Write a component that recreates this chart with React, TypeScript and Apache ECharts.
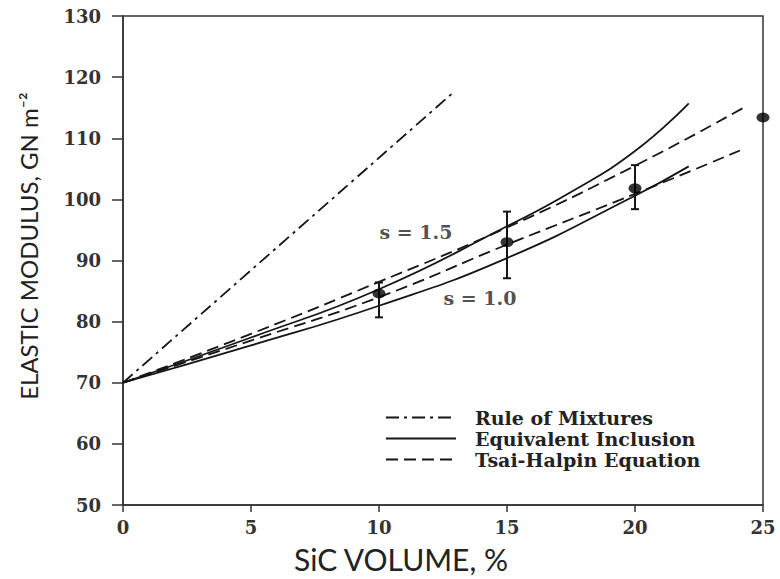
import React, { useEffect, useRef } from "react";
import * as echarts from "echarts";

// Axis ticks
const xTicks = [0, 5, 10, 15, 20, 25];
const yTicks = [50, 60, 70, 80, 90, 100, 110, 120, 130];

// Rule of Mixtures (dash-dot)
const romX = [0, 12.85];
const romY = [70, 117.3];

// Equivalent Inclusion (solid), s = 1.5 and s = 1.0
const eiHighX = [0, 5, 10, 15, 17.5, 20, 22.1];
const eiHighY = [70, 77.4, 85.3, 95.6, 101.2, 107.9, 115.7];
const eiLowX = [0, 5, 10, 15, 20, 22.1];
const eiLowY = [70, 76.1, 82.6, 90.4, 100.6, 105.4];

// Tsai-Halpin Equation (dashed), s = 1.5 and s = 1.0
const thHighX = [0, 5, 10, 15, 20, 24.2];
const thHighY = [70, 78, 86.5, 95.4, 105.5, 114.9];
const thLowX = [0, 5, 10, 15, 20, 24.1];
const thLowY = [70, 76.9, 84, 92.6, 100.9, 108];

// Experimental points
const ptX = [10, 15, 20, 25];
const ptY = [84.6, 93, 101.8, 113.4];
// Error bars
const errX = [10, 15, 20];
const errLow = [80.7, 87.1, 98.4];
const errHigh = [86.4, 98, 105.6];

// Curve annotations
const noteText = ["s = 1.5", "s = 1.0"];
const noteX = [10.0, 12.5];
const noteY = [94.6, 83.9];

const legendNames = ["Rule of Mixtures", "Equivalent Inclusion", "Tsai-Halpin Equation"];

const zip = (xs: number[], ys: number[]) => xs.map((x, i) => [x, ys[i]]);

const INK = "#151515";
const serif = "'DejaVu Serif', 'Liberation Serif', serif";

export default function App() {
  const ref = useRef<HTMLDivElement>(null);
  useEffect(() => {
    if (!ref.current) return;
    const chart = echarts.init(ref.current, undefined, { renderer: "svg" });
    const lineBase = (name: string, data: number[][], type: any) => ({
      type: "line",
      name,
      data,
      smooth: true,
      symbol: "none",
      lineStyle: { color: INK, width: 1.8, type },
      itemStyle: { color: INK },
      z: 3,
    });
    chart.setOption({
      animation: false,
      backgroundColor: "#ffffff",
      grid: {
        left: 123,
        right: 17,
        top: 16,
        bottom: 74,
        show: true,
        borderColor: "#333",
        borderWidth: 1.5,
        backgroundColor: "transparent",
      },
      legend: {
        data: legendNames,
        orient: "vertical",
        left: 380,
        top: 403,
        itemWidth: 70,
        itemHeight: 14,
        itemGap: 2,
        itemStyle: { opacity: 0 },
        textStyle: {
          fontFamily: serif,
          fontWeight: "bold",
          fontSize: 19,
          color: "#222",
          padding: [0, 0, 0, 14],
        },
      },
      xAxis: {
        type: "value",
        min: 0,
        max: 25,
        interval: 5,
        axisLine: { show: true, onZero: false, lineStyle: { color: "#333", width: 1.5 } },
        axisTick: { show: true, inside: false, length: 7, lineStyle: { color: "#333", width: 1.5 } },
        axisLabel: {
          margin: 13,
          fontFamily: serif,
          fontWeight: "bold",
          fontSize: 18,
          color: "#333",
          formatter: (v: number) => (xTicks.includes(v) ? String(v) : ""),
        },
        splitLine: { show: false },
      },
      yAxis: {
        type: "value",
        min: 50,
        max: 130,
        interval: 10,
        axisLine: { show: true, onZero: false, lineStyle: { color: "#333", width: 1.5 } },
        axisTick: { show: true, inside: false, length: 11, lineStyle: { color: "#333", width: 1.5 } },
        axisLabel: {
          margin: 22,
          fontFamily: serif,
          fontWeight: "bold",
          fontSize: 18,
          color: "#333",
          formatter: (v: number) => (yTicks.includes(v) ? String(v) : ""),
        },
        splitLine: { show: false },
      },
      graphic: [
        {
          type: "text",
          x: 401,
          y: 559,
          style: {
            text: "SiC VOLUME, %",
            font: "30px Lato, 'Open Sans', sans-serif",
            fill: "#222",
            align: "center",
            verticalAlign: "middle",
          },
        },
        {
          type: "text",
          x: 28,
          y: 246,
          rotation: Math.PI / 2,
          style: {
            text: "ELASTIC MODULUS, GN m⁻²",
            font: "24px Lato, 'Open Sans', sans-serif",
            fill: "#222",
            align: "center",
            verticalAlign: "middle",
          },
        },
      ],
      series: [
        lineBase(legendNames[0], zip(romX, romY), [13, 5, 3, 5]),
        lineBase(legendNames[1], zip(eiHighX, eiHighY), "solid"),
        lineBase(legendNames[1], zip(eiLowX, eiLowY), "solid"),
        lineBase(legendNames[2], zip(thHighX, thHighY), [12, 6]),
        lineBase(legendNames[2], zip(thLowX, thLowY), [12, 6]),
        {
          type: "custom",
          name: "error",
          data: errX.map((x, i) => [x, errLow[i], errHigh[i]]),
          encode: { x: 0, y: [1, 2] },
          z: 4,
          renderItem: (params: any, api: any) => {
            const x = api.value(0);
            const lo = api.coord([x, api.value(1)]);
            const hi = api.coord([x, api.value(2)]);
            const w = 4;
            const style = { stroke: INK, lineWidth: 2 };
            return {
              type: "group",
              children: [
                { type: "line", shape: { x1: lo[0], y1: lo[1], x2: hi[0], y2: hi[1] }, style },
                { type: "line", shape: { x1: lo[0] - w, y1: lo[1], x2: lo[0] + w, y2: lo[1] }, style },
                { type: "line", shape: { x1: hi[0] - w, y1: hi[1], x2: hi[0] + w, y2: hi[1] }, style },
              ],
            };
          },
        },
        {
          type: "scatter",
          name: "data",
          data: zip(ptX, ptY),
          symbol: "circle",
          symbolSize: [13, 10],
          itemStyle: { color: "#000" },
          z: 5,
        },
        {
          type: "scatter",
          name: "notes",
          data: noteX.map((x, i) => ({ value: [x, noteY[i]], name: noteText[i] })),
          symbolSize: 1,
          itemStyle: { color: "rgba(0,0,0,0)" },
          label: {
            show: true,
            position: "right",
            distance: 0,
            formatter: (p: any) => p.name,
            fontFamily: serif,
            fontWeight: "bold",
            fontSize: 19,
            color: "#222",
          },
          z: 6,
        },
      ],
    });
    return () => chart.dispose();
  }, []);
  return <div ref={ref} style={{ width: 780, height: 579, position: "absolute", left: 0, top: 0 }} />;
}
